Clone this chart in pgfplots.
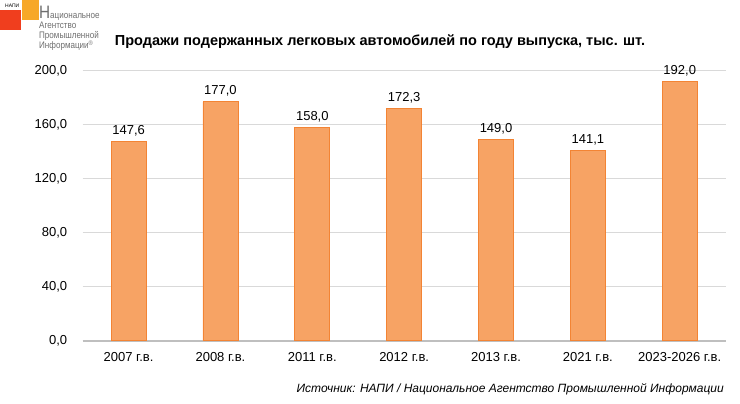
\documentclass[border=0pt]{standalone}
\usepackage{pgfplots}
\pgfplotsset{compat=1.18}
\usepackage{fontspec}
\setmainfont{Liberation Sans}
\definecolor{barorange}{RGB}{243,132,52}
\definecolor{barfill}{RGB}{247,163,100}
\definecolor{gridgray}{RGB}{217,217,217}
\definecolor{axisgray}{RGB}{191,191,191}
\definecolor{logored}{RGB}{240,62,30}
\definecolor{logoorange}{RGB}{247,168,40}
\definecolor{logogray}{RGB}{110,110,110}
\begin{document}
\begin{tikzpicture}[x=1pt,y=1pt]
\path[use as bounding box] (0,0) rectangle (740,404);
% logo
\fill[logored] (0,374) rectangle (21,394);
\fill[logoorange] (22,384) rectangle (39,404);
\node[anchor=base west, font=\fontsize{5}{5}\selectfont, inner sep=0] at (5,396) {НАПИ};
\node[anchor=base west, text=logogray, inner sep=0, xscale=0.85, transform shape] at (39,385) {{\fontsize{18}{18}\selectfont Н}{\fontsize{9.5}{9.5}\selectfont ациональное}};
\node[anchor=base west, text=logogray, inner sep=0, xscale=0.85, transform shape, font=\fontsize{9.5}{9.5}\selectfont] at (39,375) {Агентство};
\node[anchor=base west, text=logogray, inner sep=0, xscale=0.85, transform shape, font=\fontsize{9.5}{9.5}\selectfont] at (39,365) {Промышленной};
\node[anchor=base west, text=logogray, inner sep=0, xscale=0.85, transform shape, font=\fontsize{9.5}{9.5}\selectfont] at (39,355) {Информации\textsuperscript{®}};
% title
\node[font=\bfseries\fontsize{14.5}{15}\selectfont] at (380,362) {Продажи подержанных легковых автомобилей по году выпуска, тыс. шт.};
% source
\node[anchor=east, font=\itshape\fontsize{12}{12}\selectfont, inner sep=0] at (724,15) {Источник: НАПИ / Национальное Агентство Промышленной Информации};
\begin{axis}[
  at={(90,46.8)}, anchor=south west,
  width=643pt, height=270pt, scale only axis,
  xmin=-0.5, xmax=6.5, ymin=0, ymax=200,
  enlargelimits=false,
  xtick=data,
  xticklabels={2007 г.в., 2008 г.в., 2011 г.в., 2012 г.в., 2013 г.в., 2021 г.в., 2023-2026 г.в.},
  ytick={0,40,80,120,160,200},
  axis x line*=bottom, axis y line*=left,
  x axis line style={draw=axisgray, line width=1.5pt},
  y axis line style={draw=none},
  major tick length=0pt,
  ymajorgrids, grid style={gridgray, line width=0.8pt},
  tick label style={font=\fontsize{13}{13}\selectfont, text=black},
  yticklabel style={xshift=-12pt},
  xticklabel style={yshift=-8.5pt},
  /pgf/number format/.cd, use comma, fixed, fixed zerofill, precision=1, 1000 sep={}, assume math mode=true,
]
\addplot[ybar, bar width=35pt, fill=barfill, draw=barorange, line width=0.8pt,
  nodes near coords,
  every node near coord/.append style={font=\fontsize{13}{13}\selectfont, text=black, yshift=1.5pt, /pgf/number format/.cd, use comma, fixed, fixed zerofill, precision=1, assume math mode=true}]
coordinates {(0,147.6) (1,177.0) (2,158.0) (3,172.3) (4,149.0) (5,141.1) (6,192.0)};
\end{axis}
\end{tikzpicture}
\end{document}
